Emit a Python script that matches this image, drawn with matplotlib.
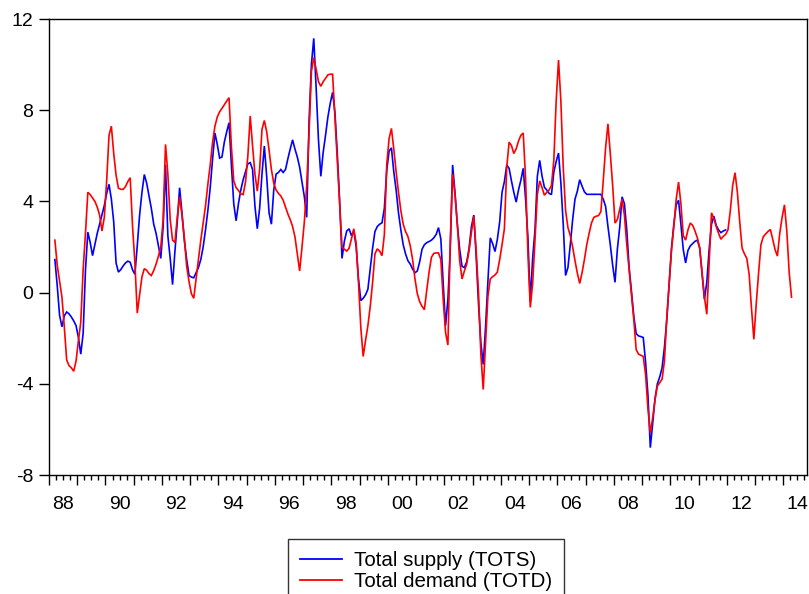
import numpy as np
import pandas as pd
import matplotlib
matplotlib.use("Agg")
import matplotlib.pyplot as plt
from matplotlib.lines import Line2D

plt.rcParams['font.family'] = ['Liberation Sans', 'DejaVu Sans']
plt.rcParams['axes.unicode_minus'] = False

# Monthly year-on-year growth (%), both series start in 1988M3
start_month = "1988-03"

# Total supply (TOTS), 1988M3 - 2011M12
tots = [
    1.45, 0.3, -1.0, -1.5, -1.02, -0.85, -0.93, -1.07, -1.24, -1.45,          # 1988
    -1.97, -2.7, -1.8, 1.0, 2.65, 2.2, 1.62, 2.1, 2.6, 3.0, 3.42, 3.82,        # 1989
    4.35, 4.75, 4.1, 3.1, 1.3, 0.9, 1.01, 1.17, 1.3, 1.38, 1.33, 1.0,          # 1990
    0.8, 2.05, 3.4, 4.4, 5.18, 4.8, 4.25, 3.68, 3.0, 2.6, 2.05, 1.5,           # 1991
    2.9, 5.6, 2.5, 1.5, 0.35, 1.8, 3.1, 4.6, 3.5, 2.3, 1.45, 0.75,             # 1992
    0.68, 0.65, 0.88, 1.1, 1.45, 2.0, 2.75, 3.6, 4.6, 5.85, 7.0, 6.5,          # 1993
    5.9, 5.95, 6.6, 7.05, 7.45, 5.6, 3.9, 3.15, 3.9, 4.5, 4.95, 5.3,           # 1994
    5.65, 5.7, 5.4, 3.8, 2.8, 3.7, 5.2, 6.43, 5.1, 3.5, 3.0, 4.5,              # 1995
    5.2, 5.27, 5.4, 5.27, 5.4, 5.87, 6.3, 6.7, 6.3, 5.95, 5.5, 4.85,           # 1996
    4.2, 3.3, 7.5, 10.0, 11.15, 9.0, 6.7, 5.1, 6.15, 6.9, 7.7, 8.3,            # 1997
    8.78, 7.9, 6.1, 4.0, 1.5, 2.25, 2.7, 2.8, 2.5, 2.7, 2.03, 0.6,             # 1998
    -0.35, -0.25, -0.1, 0.15, 1.05, 1.95, 2.68, 2.9, 3.0, 3.06, 3.7, 5.35,     # 1999
    6.2, 6.35, 5.3, 4.5, 3.5, 2.75, 2.1, 1.7, 1.4, 1.25, 1.03, 0.87,           # 2000
    0.95, 1.35, 1.9, 2.1, 2.19, 2.24, 2.3, 2.4, 2.55, 2.85, 2.35, 0.4,         # 2001
    -1.45, -0.3, 1.9, 5.6, 4.4, 3.0, 1.9, 1.15, 1.1, 1.35, 1.95, 2.9,          # 2002
    3.4, 1.6, -0.5, -2.2, -3.15, -1.5, 0.5, 2.4, 2.15, 1.8, 2.33, 3.1,         # 2003
    4.4, 4.87, 5.6, 5.45, 4.9, 4.4, 3.97, 4.5, 4.93, 5.45, 4.1, 2.4,           # 2004
    -0.4, 1.5, 2.75, 5.1, 5.8, 5.11, 4.62, 4.5, 4.35, 4.3, 5.28, 5.75,         # 2005
    6.12, 4.8, 3.0, 0.75, 1.1, 2.1, 3.2, 4.1, 4.45, 4.95, 4.67, 4.42,          # 2006
    4.31, 4.31, 4.31, 4.31, 4.31, 4.31, 4.31, 4.1, 3.78, 2.9, 2.1, 1.2,        # 2007
    0.45, 1.9, 2.87, 4.2, 3.9, 2.75, 1.1, 0.05, -1.05, -1.8, -1.9, -1.93,      # 2008
    -1.97, -3.05, -4.5, -6.8, -5.75, -4.65, -4.0, -3.7, -3.3, -2.4, -1.2, 0.35,  # 2009
    1.95, 3.0, 3.85, 4.05, 3.0, 1.89, 1.3, 1.85, 2.05, 2.15, 2.25, 2.3,        # 2010
    1.95, 0.8, -0.3, 0.45, 1.9, 3.0, 3.35, 2.95, 2.75, 2.63, 2.7, 2.75,        # 2011
]

# Total demand (TOTD), 1988M3 - 2014M4
totd = [
    2.3, 1.2, 0.5, -0.2, -1.5, -2.95, -3.2, -3.3, -3.45, -3.0,                 # 1988
    -2.1, -1.3, 1.0, 2.6, 4.4, 4.3, 4.15, 4.0, 3.75, 3.4, 2.7, 3.3,            # 1989
    4.9, 6.9, 7.3, 6.1, 5.15, 4.58, 4.53, 4.53, 4.65, 4.87, 5.04, 2.9,         # 1990
    1.3, -0.9, -0.1, 0.7, 1.05, 0.98, 0.83, 0.75, 0.97, 1.25, 1.6, 2.0,        # 1991
    3.2, 6.5, 5.2, 3.2, 2.3, 2.2, 3.3, 4.2, 3.4, 2.4, 1.15, 0.48,              # 1992
    -0.05, -0.25, 0.6, 1.45, 2.3, 3.05, 3.8, 4.75, 5.6, 6.58, 7.3, 7.7,        # 1993
    7.93, 8.08, 8.24, 8.4, 8.55, 6.4, 4.9, 4.6, 4.48, 4.33, 4.3, 4.85,         # 1994
    6.0, 7.75, 6.43, 5.2, 4.45, 5.4, 7.16, 7.55, 7.05, 6.25, 5.4, 4.8,         # 1995
    4.5, 4.35, 4.24, 4.05, 3.75, 3.45, 3.2, 2.9, 2.45, 1.7, 0.95, 2.0,         # 1996
    3.1, 4.7, 7.0, 9.7, 10.3, 9.8, 9.25, 9.05, 9.25, 9.4, 9.55, 9.58,          # 1997
    9.58, 7.7, 5.8, 3.9, 2.0, 1.9, 1.82, 1.94, 2.35, 2.8, 2.18, 0.45,          # 1998
    -1.55, -2.8, -2.1, -1.45, -0.6, 0.45, 1.7, 1.92, 1.82, 1.62, 2.55, 5.6,    # 1999
    6.75, 7.2, 6.3, 5.3, 4.4, 3.6, 3.0, 2.68, 2.46, 2.05, 1.45, 0.6,           # 2000
    -0.05, -0.4, -0.6, -0.75, 0.1, 0.9, 1.55, 1.72, 1.74, 1.74, 1.45, -0.3,    # 2001
    -1.75, -2.3, 2.2, 5.2, 4.3, 3.0, 1.4, 0.6, 0.95, 1.25, 1.85, 2.65,         # 2002
    3.35, 1.85, 0.0, -2.7, -4.25, -2.2, -0.16, 0.6, 0.7, 0.77, 0.9, 1.45,      # 2003
    2.1, 2.8, 5.5, 6.6, 6.45, 6.1, 6.3, 6.65, 6.9, 7.0, 5.0, 1.7,              # 2004
    -0.65, 0.4, 2.3, 4.3, 4.9, 4.6, 4.27, 4.4, 4.5, 4.7, 5.8, 8.4,             # 2005
    10.2, 8.4, 5.5, 3.6, 2.85, 2.5, 2.0, 1.4, 0.85, 0.4, 0.87, 1.45,           # 2006
    2.1, 2.6, 3.05, 3.3, 3.35, 3.38, 3.55, 4.9, 6.35, 7.4, 6.1, 4.7,           # 2007
    3.05, 3.2, 3.65, 4.1, 3.4, 2.1, 1.0, -0.1, -1.2, -2.5, -2.7, -2.75,        # 2008
    -2.8, -3.6, -5.1, -6.15, -5.5, -4.7, -4.1, -3.95, -3.8, -3.0, -1.1, 0.4,   # 2009
    1.85, 2.9, 4.1, 4.85, 3.9, 2.5, 2.3, 2.75, 3.05, 2.95, 2.7, 2.4,           # 2010
    1.95, 0.85, -0.2, -0.95, 1.3, 3.5, 3.25, 2.9, 2.6, 2.34, 2.47, 2.55,       # 2011
    2.75, 3.6, 4.7, 5.26, 4.4, 3.1, 1.95, 1.7, 1.5, 0.8, -0.7, -2.05,          # 2012
    -0.5, 0.85, 2.1, 2.45, 2.57, 2.68, 2.77, 2.35, 1.89, 1.6, 2.6, 3.3,        # 2013
    3.85, 2.7, 0.9, -0.2,                                                      # 2014
]

series_labels = ["Total supply (TOTS)", "Total demand (TOTD)"]
series_colors = ["#0000FF", "#FF0000"]
y_ticks = [-8, -4, 0, 4, 8, 12]
label_years = list(range(1988, 2015, 2))


def decimal_dates(start, n):
    per = pd.period_range(start, periods=n, freq="M")
    return per.year + (per.month - 0.5) / 12.0


x_s = decimal_dates(start_month, len(tots))
x_d = decimal_dates(start_month, len(totd))

W, H = 809, 594
fig = plt.figure(figsize=(W / 100, H / 100), dpi=100)
ax = fig.add_axes([49 / W, 1 - 475 / H, (807 - 49) / W, (475 - 19) / H])

ax.plot(x_s, tots, color=series_colors[0], lw=1.2, solid_joinstyle="miter")
ax.plot(x_d, totd, color=series_colors[1], lw=1.2, solid_joinstyle="miter")

ax.set_xlim(1988.0, 2014.84)
ax.set_ylim(-8, 12)

# year ticks (long) and quarter ticks (short), labels centred on the year
ax.set_xticks(np.arange(1988, 2015))
ax.set_xticks(np.arange(1988, 2014.85, 0.25), minor=True)
ax.tick_params(axis="x", which="major", length=7, width=1.0, direction="out",
               labelbottom=False, color="black")
ax.tick_params(axis="x", which="minor", length=3.5, width=1.0, direction="out",
               color="black")

sec = ax.secondary_xaxis("bottom")
sec.set_xticks([y + 0.5 for y in label_years],
               labels=[f"{y % 100:02d}" for y in label_years])
sec.tick_params(length=0, pad=15, labelsize=14)
sec.spines["bottom"].set_visible(False)

ax.set_yticks(y_ticks, labels=[str(v) for v in y_ticks])
ax.tick_params(axis="y", length=7, width=1.0, pad=4.3, labelsize=14,
               direction="out", color="black")

for sp in ax.spines.values():
    sp.set_linewidth(1.0)
    sp.set_color("black")

handles = [Line2D([], [], color=c, lw=1.3) for c in series_colors]
leg = fig.legend(handles, series_labels, loc="upper left",
                 bbox_to_anchor=(288 / W, 1 - 539 / H),
                 bbox_transform=fig.transFigure,
                 frameon=True, fancybox=False, edgecolor="black",
                 fontsize=14.8, handlelength=2.05, handletextpad=0.54,
                 borderpad=0.6, labelspacing=0.1, borderaxespad=0)
leg.get_frame().set_linewidth(1.0)

fig.savefig("out.png", dpi=100)
